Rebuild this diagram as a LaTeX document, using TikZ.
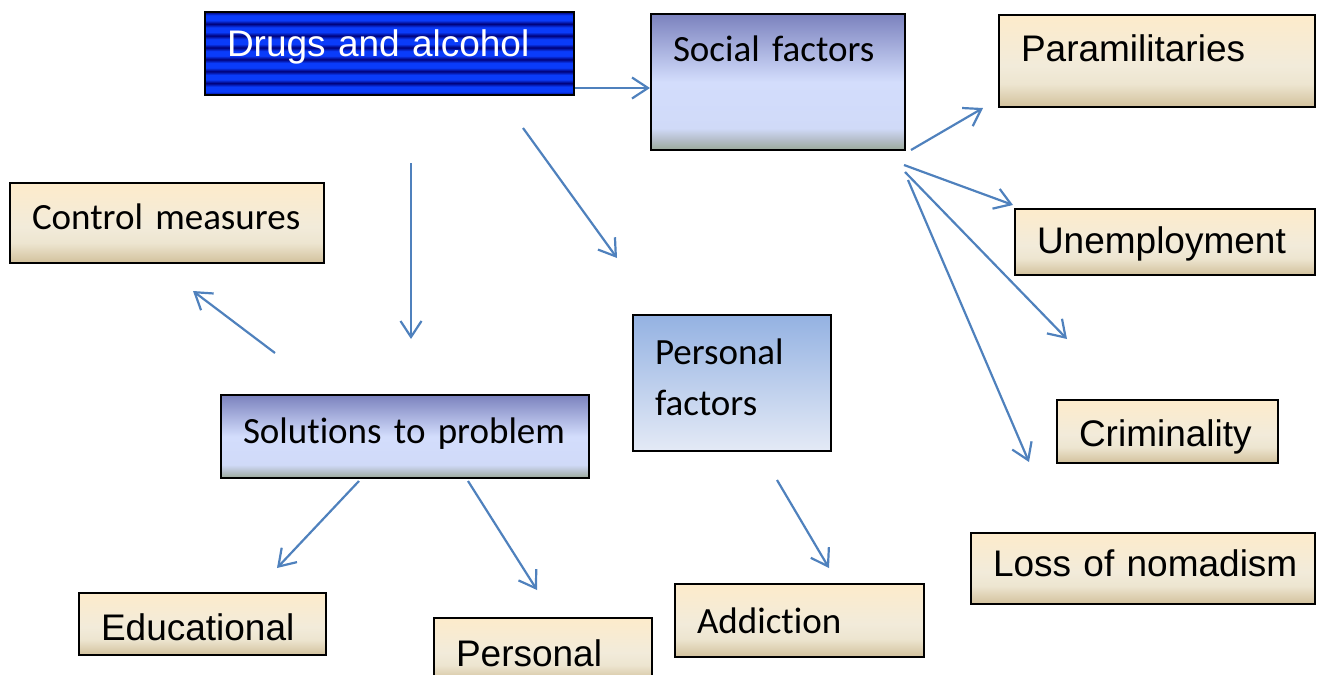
\documentclass[tikz,border=0pt]{standalone}
\usepackage{fontspec}
\newfontfamily\arialfont{Liberation Sans}
\newfontfamily\calibrifont[Ligatures=NoCommon]{Carlito}
\usetikzlibrary{arrows.meta}

\definecolor{linkblue}{HTML}{4F81BD}
\definecolor{bandnavy}{HTML}{000078}
\definecolor{bandblue}{HTML}{0A3CFA}
\definecolor{tantop}{HTML}{FDEBCB}
\definecolor{tanmid}{HTML}{F2EBDA}
\definecolor{tanlow}{HTML}{EDE5D0}
\definecolor{tanbottom}{HTML}{D2C19C}
\definecolor{lavtop}{HTML}{7B82BE}
\definecolor{lavmid}{HTML}{D3DDFC}
\definecolor{lavlow}{HTML}{D0DAF8}
\definecolor{lavgrey}{HTML}{B6BFCB}
\definecolor{lavbottom}{HTML}{9BAA9A}
\definecolor{pftop}{HTML}{94B2E2}
\definecolor{pfbottom}{HTML}{E4EAF6}

\pgfdeclareverticalshading{drugsband}{100bp}{color(0bp)=(bandnavy); color(25bp)=(bandnavy);
  color(27bp)=(bandblue); color(30bp)=(bandblue); color(32.14bp)=(bandnavy);
  color(34.3bp)=(bandblue); color(37.1bp)=(bandblue); color(39.29bp)=(bandnavy);
  color(41.4bp)=(bandblue); color(44.3bp)=(bandblue); color(46.43bp)=(bandnavy);
  color(48.6bp)=(bandblue); color(51.4bp)=(bandblue); color(53.57bp)=(bandnavy);
  color(55.7bp)=(bandblue); color(58.6bp)=(bandblue); color(60.71bp)=(bandnavy);
  color(62.9bp)=(bandblue); color(65.7bp)=(bandblue); color(67.86bp)=(bandnavy);
  color(70bp)=(bandblue); color(73bp)=(bandblue); color(75bp)=(bandnavy); color(100bp)=(bandnavy)}
\pgfdeclareverticalshading{tanshade}{100bp}{color(0bp)=(tanbottom); color(25bp)=(tanbottom);
  color(37.5bp)=(tanlow); color(47.5bp)=(tanmid); color(75bp)=(tantop); color(100bp)=(tantop)}
\pgfdeclareverticalshading{lavshade}{100bp}{color(0bp)=(lavbottom); color(25bp)=(lavbottom);
  color(29bp)=(lavgrey); color(33bp)=(lavlow); color(50bp)=(lavmid); color(75bp)=(lavtop);
  color(100bp)=(lavtop)}

\tikzset{
	box/.style={draw=black, line width=2pt, anchor=north west, inner xsep=22pt, inner ysep=0pt,
		align=left, font=\calibrifont\fontsize{37}{45}\selectfont},
	arial/.style={font=\arialfont\fontsize{37}{45}\selectfont},
	tanbox/.style={box, shading=tanshade},
	lavbox/.style={box, shading=lavshade},
	link/.style={draw=linkblue, line width=2.2pt, -{Straight Barb[length=16pt,width=21pt]}}
}

\begin{document}
\begin{tikzpicture}[x=1pt, y=-1pt]
				\useasboundingbox (0,0) rectangle (1326,675);
				\node[box, arial, shading=drugsband, text=white, text width=325pt, text height=44pt, text depth=39pt] (drugs) at (204,11) {Drugs and alcohol};
				\node[lavbox, text width=210pt, text height=47pt, text depth=89pt] (social) at (650,13) {Social factors};
				\node[tanbox, arial, text width=272pt, text height=46pt, text depth=46pt] (para) at (998,14) {Paramilitaries};
				\node[tanbox, text width=270pt, text height=46pt, text depth=34pt] (control) at (9,182) {Control measures};
				\node[tanbox, arial, text width=256pt, text height=44pt, text depth=22pt] (unemp) at (1014,208) {Unemployment};
				\node[box, top color=pftop, bottom color=pfbottom, font=\calibrifont\fontsize{37}{51}\selectfont, text width=154pt, text height=49pt, text depth=87pt] (perfac) at (632,314) {Personal\\factors};
				\node[tanbox, arial, text width=177pt, text height=46pt, text depth=17pt] (crim) at (1056,399) {Criminality};
				\node[lavbox, text width=324pt, text height=48pt, text depth=35pt] (solve) at (220,394) {Solutions to problem};
				\node[tanbox, arial, text width=300pt, text height=43pt, text depth=28pt] (nomad) at (970,532) {\mbox{Loss of nomadism}};
				\node[tanbox, arial, text width=203pt, text height=47pt, text depth=15pt] (edu) at (78,592) {Educational};
				\node[tanbox, arial, text width=174pt, text height=48pt, text depth=15pt] (pers) at (433,617) {Personal};
				\node[tanbox, text width=205pt, text height=49pt, text depth=24pt] (addict) at (674,583) {Addiction};
				\coordinate (dsol1) at (411,163);
				\coordinate (dsol2) at (411,339);
				\coordinate (dper1) at (523,128);
				\coordinate (dper2) at (617,258);
				\coordinate (sctl1) at (275,353);
				\coordinate (sctl2) at (193,291);
				\coordinate (spara1) at (911,150);
				\coordinate (spara2) at (983,108);
				\coordinate (sune1) at (904,165);
				\coordinate (sune2) at (1013,205);
				\coordinate (scrim1) at (905,172);
				\coordinate (scrim2) at (1067,339);
				\coordinate (snom1) at (908,180);
				\coordinate (snom2) at (1029,462);
				\coordinate (sedu1) at (359,481);
				\coordinate (sedu2) at (277,568);
				\coordinate (spers1) at (468,481);
				\coordinate (spers2) at (537,590);
				\coordinate (padd1) at (777,480);
				\coordinate (padd2) at (829,568);
				\draw[link] ([yshift=8pt]drugs.south east) -- ([yshift=8pt]drugs.south east -| social.west);
				\draw[link] (dsol1) -- (dsol2);
				\draw[link] (dper1) -- (dper2);
				\draw[link] (sctl1) -- (sctl2);
				\draw[link] (spara1) -- (spara2);
				\draw[link] (sune1) -- (sune2);
				\draw[link] (scrim1) -- (scrim2);
				\draw[link] (snom1) -- (snom2);
				\draw[link] (sedu1) -- (sedu2);
				\draw[link] (spers1) -- (spers2);
				\draw[link] (padd1) -- (padd2);
			\end{tikzpicture}
\end{document}
